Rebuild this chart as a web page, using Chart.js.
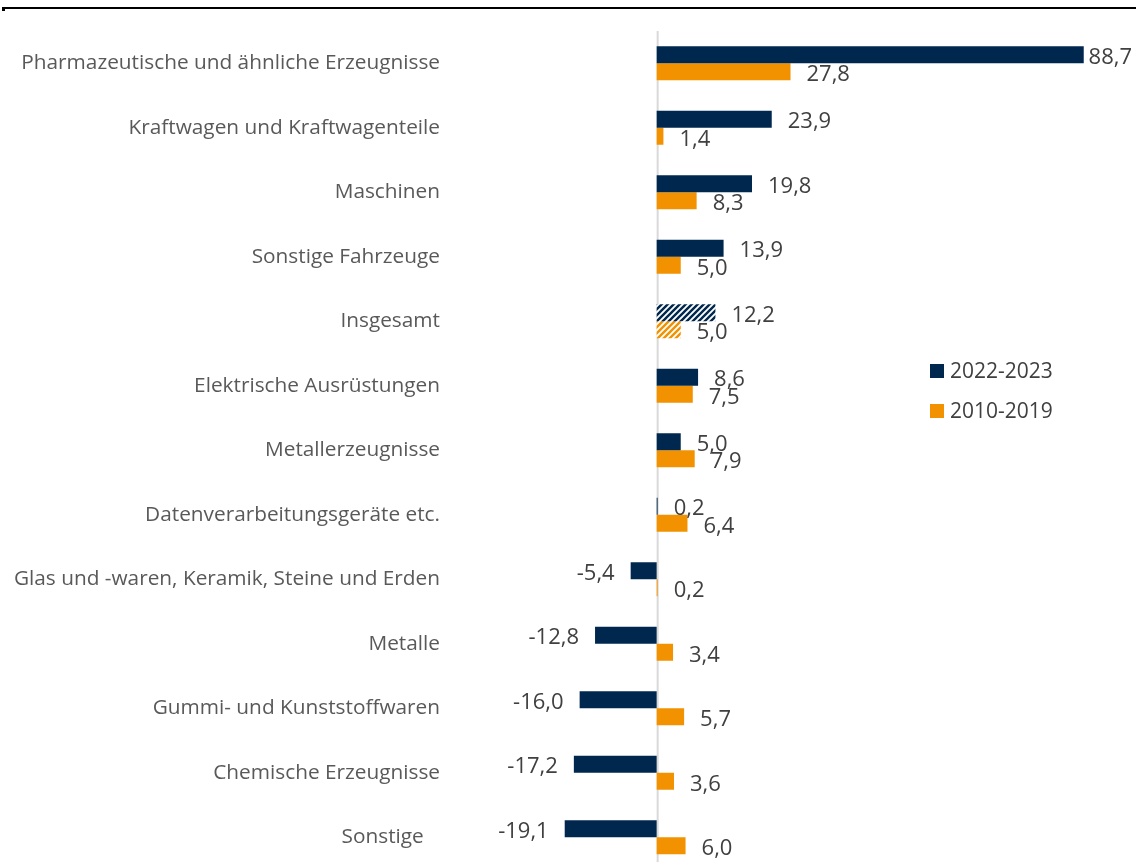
<!DOCTYPE html>
<html>
<head>
<meta charset="utf-8">
<script src="https://cdn.jsdelivr.net/npm/chart.js@4.4.1/dist/chart.umd.min.js"></script>
<style>
html, body { margin: 0; padding: 0; background: #fff; overflow: hidden; }
#chart { position: absolute; left: 0; top: 0; }
</style>
</head>
<body>
<canvas id="chart" width="1136" height="882"></canvas>
<script>
var categories = [
    'Pharmazeutische und ähnliche Erzeugnisse',
    'Kraftwagen und Kraftwagenteile',
    'Maschinen',
    'Sonstige Fahrzeuge',
    'Insgesamt',
    'Elektrische Ausrüstungen',
    'Metallerzeugnisse',
    'Datenverarbeitungsgeräte etc.',
    'Glas und -waren, Keramik, Steine und Erden',
    'Metalle',
    'Gummi- und Kunststoffwaren',
    'Chemische Erzeugnisse',
    'Sonstige   '
];
var seriesNames = ['2022-2023', '2010-2019'];
var values2022 = [88.7, 23.9, 19.8, 13.9, 12.2, 8.6, 5.0, 0.2, -5.4, -12.8, -16.0, -17.2, -19.1];
var values2010 = [27.8, 1.4, 8.3, 5.0, 5.0, 7.5, 7.9, 6.4, 0.2, 3.4, 5.7, 3.6, 6.0];
var totalCategory = 'Insgesamt';

var NAVY = '#00284f';
var ORANGE = '#f39200';
var TEXT = '#404040';
var LABEL = '#595959';
var FONT = '"Open Sans", sans-serif';

function hatch(color) {
    var c = document.createElement('canvas');
    c.width = 6;
    c.height = 6;
    var g = c.getContext('2d');
    g.fillStyle = '#fff';
    g.fillRect(0, 0, 6, 6);
    g.strokeStyle = color;
    g.lineWidth = 2.4;
    g.beginPath();
    g.moveTo(-1, 7); g.lineTo(7, -1);
    g.moveTo(-4, 4); g.lineTo(4, -4);
    g.moveTo(2, 10); g.lineTo(10, 2);
    g.stroke();
    return document.getElementById('chart').getContext('2d').createPattern(c, 'repeat');
}

function fills(color) {
    return categories.map(function(name) {
        return name === totalCategory ? hatch(color) : color;
    });
}

function fmt(v) {
    return v.toFixed(1).replace('.', ',');
}

var extras = {
    id: 'extras',
    beforeDatasetsDraw: function(chart) {
        var ctx = chart.ctx;
        var area = chart.chartArea;
        var x0 = chart.scales.x.getPixelForValue(0);
        ctx.save();
        // zero line
        ctx.strokeStyle = '#d9d9d9';
        ctx.lineWidth = 2;
        ctx.beginPath();
        ctx.moveTo(x0 + 1, area.top);
        ctx.lineTo(x0 + 1, area.bottom);
        ctx.stroke();
        // top rule
        ctx.strokeStyle = '#000';
        ctx.lineWidth = 2;
        ctx.beginPath();
        ctx.moveTo(2, 8);
        ctx.lineTo(chart.width, 8);
        ctx.stroke();
        ctx.fillStyle = '#000';
        ctx.fillRect(2, 8, 3, 3);
        ctx.restore();
    },
    afterDatasetsDraw: function(chart) {
        var ctx = chart.ctx;
        ctx.save();
        ctx.font = '22px ' + FONT;
        ctx.fillStyle = TEXT;
        ctx.textBaseline = 'middle';
        chart.data.datasets.forEach(function(ds, i) {
            var meta = chart.getDatasetMeta(i);
            meta.data.forEach(function(bar, j) {
                var v = ds.data[j];
                var t = fmt(v);
                if (v >= 0) {
                    var w = ctx.measureText(t).width;
                    ctx.textAlign = 'left';
                    ctx.fillText(t, Math.min(bar.x + 16, chart.width - w - 4), bar.y + 3);
                } else {
                    ctx.textAlign = 'right';
                    ctx.fillText(t, bar.x - 16, bar.y + 3);
                }
            });
        });
        // legend
        ctx.textAlign = 'left';
        ctx.font = '21px ' + FONT;
        var colors = [NAVY, ORANGE];
        seriesNames.forEach(function(name, i) {
            var y = 371 + i * 40;
            ctx.fillStyle = colors[i];
            ctx.fillRect(930, y - 7, 14, 14);
            ctx.fillStyle = TEXT;
            ctx.fillText(name, 950, y + 1);
        });
        ctx.restore();
    }
};

new Chart(document.getElementById('chart'), {
    type: 'bar',
    data: {
        labels: categories,
        datasets: [
            { label: seriesNames[0], data: values2022, backgroundColor: fills(NAVY) },
            { label: seriesNames[1], data: values2010, backgroundColor: fills(ORANGE) }
        ]
    },
    options: {
        indexAxis: 'y',
        responsive: false,
        animation: false,
        barPercentage: 1,
        categoryPercentage: 0.53,
        layout: { padding: { top: 31, bottom: 0, right: 46, left: 0 } },
        plugins: { legend: { display: false }, tooltip: { enabled: false } },
        scales: {
            x: { display: false, min: -45, max: 90 },
            y: {
                grid: { display: false, drawTicks: false },
                border: { display: false },
                ticks: { color: LABEL, font: { family: FONT, size: 20.8 }, padding: 0, autoSkip: false, labelOffset: 0 },
                afterFit: function(scale) { scale.width = 440; }
            }
        }
    },
    plugins: [extras]
});
</script>
</body>
</html>
